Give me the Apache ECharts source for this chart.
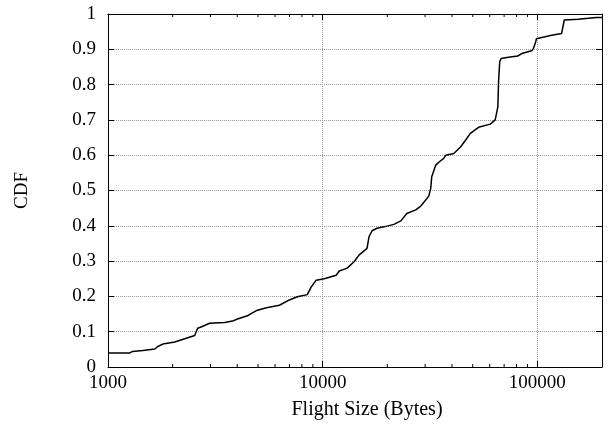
<!DOCTYPE html>
<html>
<head>
<meta charset="utf-8">
<script src="https://cdn.jsdelivr.net/npm/echarts@6/dist/echarts.min.js"></script>
<style>
  html, body { margin: 0; padding: 0; background: #fff; }
  #chart { width: 610px; height: 432px; }
</style>
</head>
<body>
<div id="chart"></div>
<script>
// CDF of flight size
var flightSize = [1000, 1265, 1300, 1454, 1652, 1706, 1800, 2046, 2276, 2534, 2616, 2731, 2974, 3490, 3802,
    4010, 4463, 4660, 4966, 5470, 6285, 6995, 7620, 8475, 8850, 9330, 10160, 11560, 11940, 13000, 14000, 14760,
    16090, 16440, 16980, 17910, 19290, 21460, 23130, 24650, 27140, 28640, 30200, 31190, 31860, 32210, 33630,
    34730, 36630, 37430, 40800, 43950, 46360, 48720, 53220, 60330, 63630, 65440, 66000, 66800, 67800, 72050,
    81020, 84570, 94100, 95810, 98180, 99000, 101060, 116520, 129700, 133470, 154900, 188400, 200000];
var cdf = [0.04, 0.04, 0.044, 0.047, 0.051, 0.058, 0.065, 0.071, 0.08, 0.089, 0.11, 0.114, 0.124, 0.126, 0.13,
    0.136, 0.145, 0.152, 0.161, 0.168, 0.175, 0.19, 0.199, 0.205, 0.227, 0.246, 0.25, 0.26, 0.272, 0.28, 0.298, 0.317,
    0.336, 0.369, 0.386, 0.393, 0.397, 0.404, 0.414, 0.435, 0.445, 0.456, 0.473, 0.484, 0.506, 0.539, 0.572,
    0.58, 0.591, 0.60, 0.605, 0.624, 0.643, 0.662, 0.679, 0.688, 0.70, 0.737, 0.813, 0.865, 0.874, 0.877,
    0.881, 0.888, 0.896, 0.902, 0.921, 0.93, 0.935, 0.94, 0.945, 0.983, 0.985, 0.99, 0.99];
// minor ticks on the log axis (2..9 x 10^k)
var minorTicks = [2000, 3000, 4000, 5000, 6000, 7000, 8000, 9000,
    20000, 30000, 40000, 50000, 60000, 70000, 80000, 90000];

var FONT = 'Liberation Serif, Times New Roman, serif';
var chart = echarts.init(document.getElementById('chart'), null, { renderer: 'canvas' });

var gridLine = { show: true, lineStyle: { color: '#999', type: 'dotted', width: 1 } };
var frame = { show: true, onZero: false, lineStyle: { color: '#000', width: 1 } };

chart.setOption({
    animation: false,
    backgroundColor: '#fff',
    textStyle: { fontFamily: FONT },
    grid: { left: 108, right: 8, top: 14, bottom: 65 },
    xAxis: [{
        type: 'log', logBase: 10, min: 1000, max: 200000,
        position: 'bottom',
        name: 'Flight Size (Bytes)', nameLocation: 'middle', nameGap: 33,
        // gnuplot put the label a bit right of centre
        nameTextStyle: { fontFamily: FONT, fontSize: 20, color: '#000', padding: [0, 0, 0, 24] },
        axisLine: frame,
        axisTick: { show: true, inside: true, length: 6, lineStyle: { color: '#000' } },
        axisLabel: { fontFamily: FONT, fontSize: 19, color: '#000', margin: 7, showMaxLabel: false,
            formatter: function (v) { return String(v); } },
        splitLine: gridLine
    }, {
        type: 'log', logBase: 10, min: 1000, max: 200000,
        position: 'top',
        axisLine: frame,
        axisTick: { show: true, inside: true, length: 6, lineStyle: { color: '#000' } },
        axisLabel: { show: false },
        splitLine: { show: false }
    }],
    yAxis: [{
        type: 'value', min: 0, max: 1, interval: 0.1,
        position: 'left',
        name: 'CDF', nameLocation: 'middle', nameGap: 76,
        nameTextStyle: { fontFamily: FONT, fontSize: 19, color: '#000' },
        axisLine: frame,
        axisTick: { show: true, inside: true, length: 6, lineStyle: { color: '#000' } },
        axisLabel: { fontFamily: FONT, fontSize: 19, color: '#000', margin: 12,
            formatter: function (v) { return String(Math.round(v * 10) / 10); } },
        splitLine: gridLine
    }, {
        type: 'value', min: 0, max: 1, interval: 0.1,
        position: 'right',
        axisLine: frame,
        axisTick: { show: true, inside: true, length: 6, lineStyle: { color: '#000' } },
        axisLabel: { show: false },
        splitLine: { show: false }
    }],
    series: [{
        type: 'line',
        xAxisIndex: 0, yAxisIndex: 0,
        data: flightSize.map(function (x, i) { return [x, cdf[i]]; }),
        showSymbol: false,
        lineStyle: { color: '#000', width: 1.5 },
        z: 5
    }, {
        type: 'custom',
        xAxisIndex: 0, yAxisIndex: 0,
        data: minorTicks.map(function (x) { return [x]; }),
        renderItem: function (params, api) {
            var b = api.coord([api.value(0), 0]);
            var t = api.coord([api.value(0), 1]);
            var st = { stroke: '#000', lineWidth: 1 };
            return { type: 'group', children: [
                { type: 'line', shape: { x1: b[0], y1: b[1], x2: b[0], y2: b[1] - 3 }, style: st },
                { type: 'line', shape: { x1: t[0], y1: t[1], x2: t[0], y2: t[1] + 3 }, style: st }
            ] };
        },
        silent: true
    }]
});
</script>
</body>
</html>
